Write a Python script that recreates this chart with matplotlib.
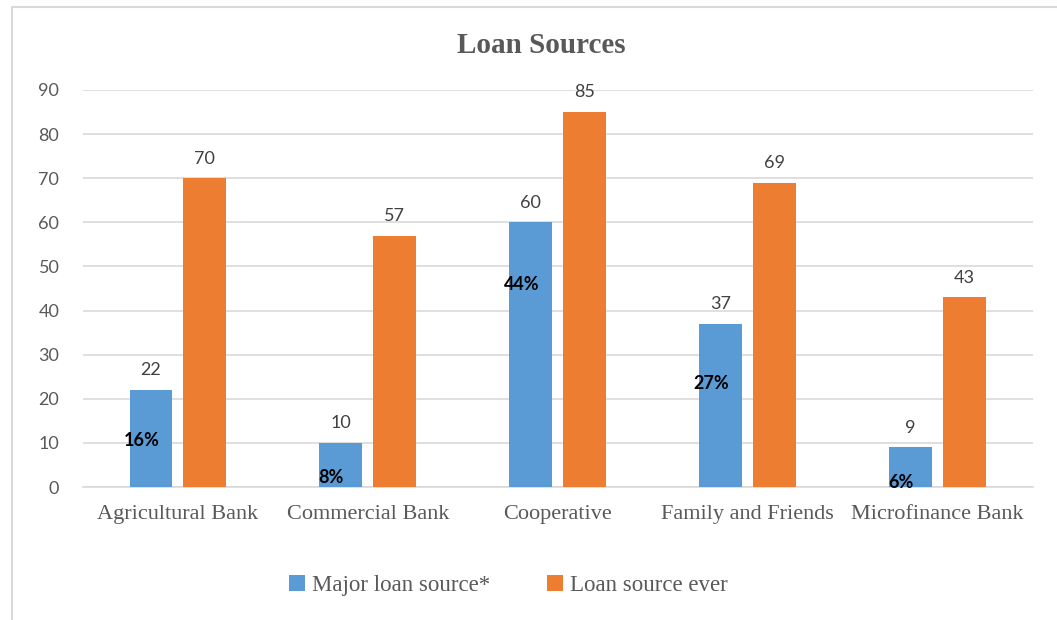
import numpy as np
import matplotlib.pyplot as plt
from matplotlib.patches import Rectangle

categories = ['Agricultural Bank', 'Commercial Bank', 'Cooperative',
              'Family and Friends', 'Microfinance Bank']
major_source = [22, 10, 60, 37, 9]
ever_source = [70, 57, 85, 69, 43]
pct_labels = ['16%', '8%', '44%', '27%', '6%']
pct_y = [10.6, 2.2, 46, 23.5, 1.1]

blue = '#5B9BD5'
orange = '#ED7D31'
grey_text = '#595959'

fig = plt.figure(figsize=(10.57, 6.2), dpi=100)
ax = fig.add_axes([0.0785, 0.2145, 0.8985, 0.6405])

x = np.arange(len(categories))
w = 0.226
off = 0.142
b1 = ax.bar(x - off, major_source, w, color=blue, label='Major loan source*', zorder=3)
b2 = ax.bar(x + off, ever_source, w, color=orange, label='Loan source ever', zorder=3)

# value labels above bars
for bars in (b1, b2):
    for r in bars:
        ax.text(r.get_x() + r.get_width() / 2, r.get_height() + 2.6,
                f'{int(r.get_height())}', ha='center', va='bottom',
                fontsize=13, color='#404040', family='Lato')

# percentage labels on the blue bars
for i, (p, py) in enumerate(zip(pct_labels, pct_y)):
    ax.text(x[i] - off - 0.05, py, p, ha='center', va='center',
            fontsize=13, fontweight='bold', color='black', family='Lato', zorder=4)

ax.set_xlim(-0.5, len(categories) - 0.5)
ax.set_ylim(0, 90)
ax.set_yticks(range(0, 91, 10))
ax.yaxis.grid(True, color='#D9D9D9', linewidth=1.2, zorder=0)
ax.set_axisbelow(True)
for s in ['top', 'right', 'left']:
    ax.spines[s].set_visible(False)
ax.spines['bottom'].set_color('#D9D9D9')
ax.spines['bottom'].set_linewidth(1.2)
ax.tick_params(length=0)
ax.tick_params(axis='y', labelsize=13, labelcolor=grey_text, pad=17)
for t in ax.get_yticklabels():
    t.set_family('Lato')
ax.set_xticks(x)
ax.set_xticklabels(categories, fontsize=16, color=grey_text, family='Liberation Serif')
ax.tick_params(axis='x', pad=13)

fig.text(0.512, 0.926, 'Loan Sources', ha='center', va='center', fontsize=21,
         fontweight='bold', color=grey_text, family='Liberation Serif')

leg = fig.legend(handles=[b1, b2], loc='center', bbox_to_anchor=(0.481, 0.055),
                 ncol=2, frameon=False, handlelength=0.7, handleheight=0.7,
                 handletextpad=0.3, columnspacing=2.5,
                 prop={'family': 'Liberation Serif', 'size': 16.5})
for t in leg.get_texts():
    t.set_color(grey_text)

fig.patches.append(Rectangle((0.011, -0.01), 1.0, 0.998, transform=fig.transFigure,
                             fill=False, edgecolor='#D9D9D9', linewidth=1.5))

fig.savefig('out.png', dpi=100)
